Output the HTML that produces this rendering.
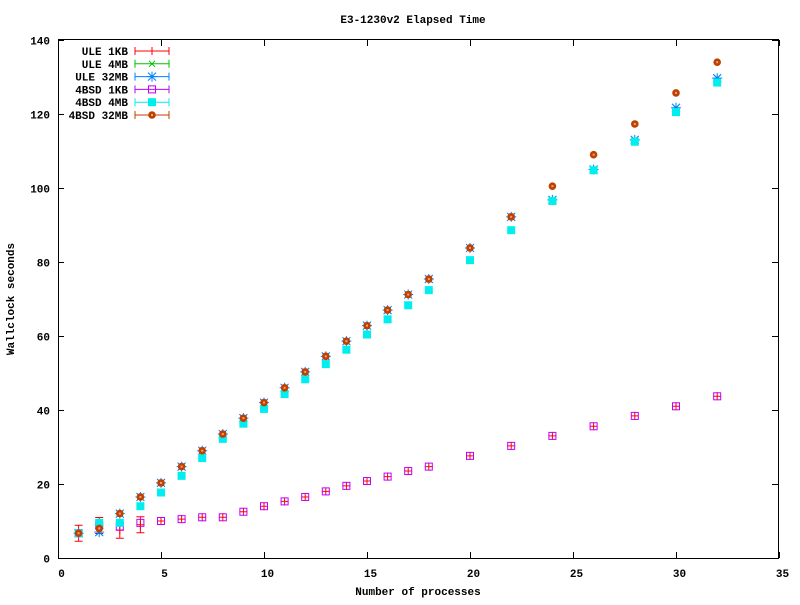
<!DOCTYPE html>
<html><head><meta charset="utf-8"><style>
body{margin:0;background:#fff}
svg text{font-family:"Liberation Mono",monospace;font-size:11px;font-weight:bold;fill:#000}
</style></head><body>
<svg id="s" width="800" height="600" xmlns="http://www.w3.org/2000/svg">
<rect width="800" height="600" fill="#fff"/>
<text x="413" y="23" text-anchor="middle">E3-1230v2 Elapsed Time</text>
<text x="418" y="595" text-anchor="middle">Number of processes</text>
<text transform="translate(14,299) rotate(-90)" text-anchor="middle">Wallclock seconds</text>
<g id="ax" stroke="#000" fill="none"></g>
<g id="pts"></g>
</svg>
<script>
var X0=58,SX=20.6,Y0=558,SY=3.7,NS="http://www.w3.org/2000/svg";
function px(x){return X0+x*SX} function py(y){return Y0-y*SY}
var s=document.getElementById('s'),ax=document.getElementById('ax'),P=document.getElementById('pts');
function el(p,t,a){var e=document.createElementNS(NS,t);for(var k in a)e.setAttribute(k,a[k]);p.appendChild(e);return e}
el(ax,'rect',{x:58.5,y:39.5,width:720,height:519,'stroke-width':1});
for(var i=0;i<=35;i+=5){var x=Math.round(px(i))+.5;el(ax,'line',{x1:x,y1:558,x2:x,y2:552});el(ax,'line',{x1:x,y1:40,x2:x,y2:46});
 var t=el(s,'text',{x:x+3,y:577,'text-anchor':'middle'});t.textContent=i;}
for(var j=0;j<=140;j+=20){var y=Math.round(py(j))+.5;el(ax,'line',{x1:58,y1:y,x2:64,y2:y});el(ax,'line',{x1:778,y1:y,x2:772,y2:y});
 var t=el(s,'text',{x:50,y:y+4,'text-anchor':'end'});t.textContent=j;}
var N=[1,2,3,4,5,6,7,8,9,10,11,12,13,14,15,16,17,18,20,22,24,26,28,30,32];
var hi=[6.7,8,12,16.5,20.3,24.7,29,33.5,37.8,42,46,50.3,54.5,58.6,62.8,67,71.2,75.4,83.8,92.2,100.5,109,117.3,125.7,134];
var ule=hi.slice();ule[20]=96.8;ule[21]=105;ule[22]=113;ule[23]=121.7;ule[24]=129.7;ule[1]=7;
var cy=[6.7,9.5,9.5,14,17.7,22.2,27,32.2,36.3,40.3,44.3,48.3,52.4,56.3,60.4,64.5,68.3,72.4,80.5,88.6,96.5,104.8,112.5,120.5,128.5];
var lo=[6.7,8.8,8.5,9.5,10,10.5,11,11,12.5,14,15.3,16.5,18,19.5,20.8,22,23.5,24.7,27.6,30.3,33,35.6,38.4,41,43.7];
var lo2=lo.slice();lo2[2]=7.5;lo2[3]=9;
function mark(g,type,c,x,y){
 var a={stroke:c,fill:'none','stroke-width':1};
 if(type=='+'){el(g,'path',Object.assign({d:'M'+(x-4)+' '+y+'h8M'+x+' '+(y-4)+'v8'},a));}
 else if(type=='x'){el(g,'path',Object.assign({d:'M'+(x-3)+' '+(y-3)+'l6 6M'+(x-3)+' '+(y+3)+'l6 -6'},a));}
 else if(type=='*'){el(g,'path',Object.assign({d:'M'+(x-5)+' '+y+'h10M'+x+' '+(y-5)+'v10M'+(x-4)+' '+(y-4)+'l8 8M'+(x-4)+' '+(y+4)+'l8 -8'},a));}
 else if(type=='sq'){el(g,'rect',Object.assign({x:x-3.5,y:y-3.5,width:7,height:7},a));}
 else if(type=='fsq'){el(g,'rect',{x:x-4,y:y-4,width:8,height:8,fill:c});}
 else if(type=='o'){el(g,'circle',{cx:x,cy:y,r:3.8,fill:c,stroke:'none'});el(g,'rect',{x:x-1,y:y-1,width:2,height:2,fill:'#f0a080'});}
}
var S=[['ULE 1KB','#ff0000','+',lo2],['ULE 4MB','#00c000','x',ule],['ULE 32MB','#0080ff','*',ule],
['4BSD 1KB','#c000ff','sq',lo],['4BSD 4MB','#00eeee','fsq',cy],['4BSD 32MB','#c04000','o',hi]];
S.forEach(function(sr,k){
 var g=el(P,'g',{});
 sr[3].forEach(function(v,i){var x=px(N[i]),y=py(v);
  if(i<4&&sr[2]=='+'){el(g,'path',{d:'M'+(x-4)+' '+(y-8)+'h8M'+x+' '+(y-8)+'v16M'+(x-4)+' '+(y+8)+'h8',stroke:sr[1],fill:'none'});}
  mark(g,sr[2],sr[1],x,y);});
 var ly=51+k*12.8;
 var t=el(s,'text',{x:128,y:ly+4,'text-anchor':'end'});t.textContent=sr[0];
 el(g,'path',{d:'M135 '+ly+'h34M135 '+(ly-4)+'v8M169 '+(ly-4)+'v8',stroke:sr[1],fill:'none'});
 mark(g,sr[2],sr[1],152,ly);
});
</script>
</body></html>
